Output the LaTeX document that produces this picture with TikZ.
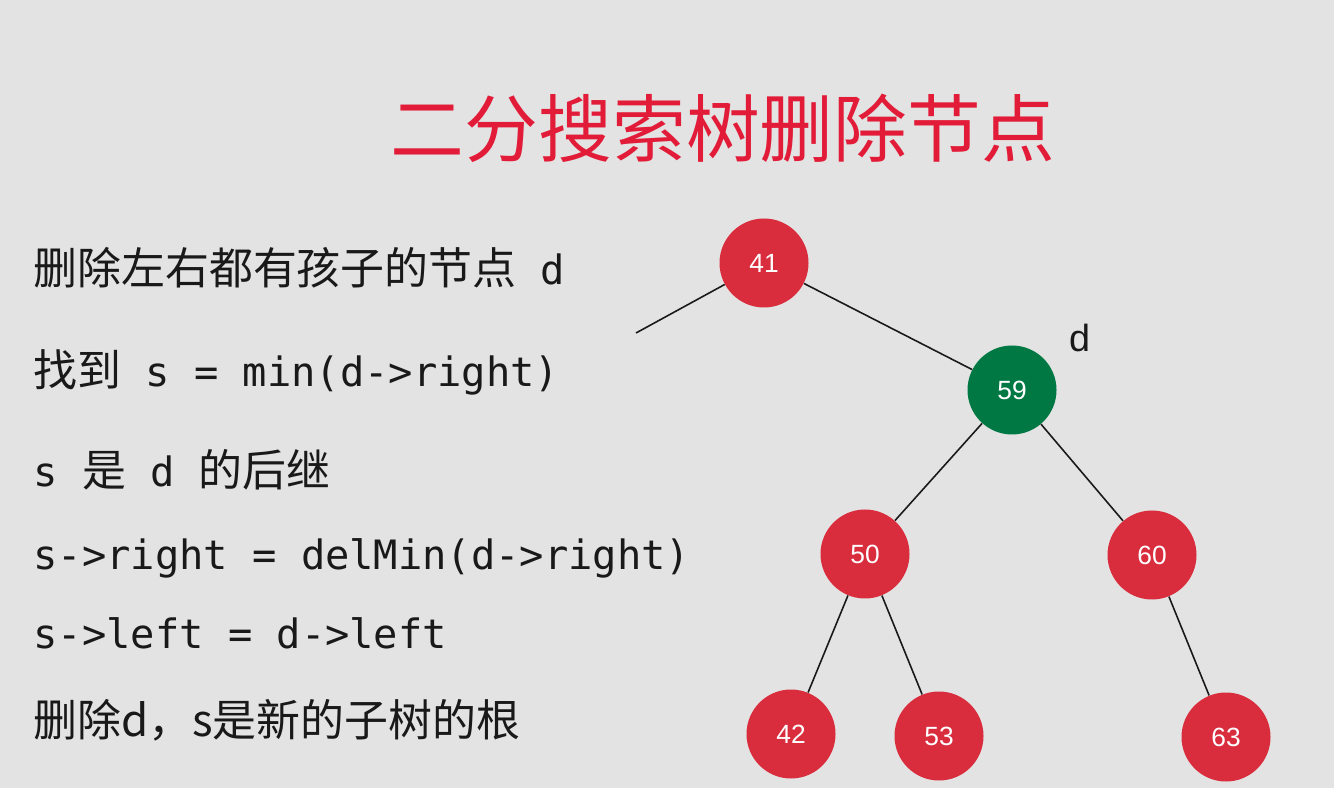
\documentclass[tikz,border=0pt]{standalone}
\usepackage{fontspec}
\setmainfont{Liberation Sans}
\setmonofont{DejaVu Sans Mono}
\newfontfamily\cjk{Noto Sans CJK SC}
\usetikzlibrary{positioning}
\definecolor{slidebg}{RGB}{227,227,227}
\definecolor{nodered}{RGB}{217,45,62}
\definecolor{nodegreen}{RGB}{0,120,68}
\definecolor{titlered}{RGB}{226,28,56}
\definecolor{ink}{RGB}{25,25,25}
\newcommand\zh[1]{{\cjk\fontsize{25}{25}\selectfont #1}}

\begin{document}
\begin{tikzpicture}[
  on grid,
  node distance=3.6cm and 1.48cm,
  tnode/.style={circle,fill=nodered,minimum size=1.78cm,inner sep=0pt,text=white,font=\fontsize{15}{15}\selectfont},
  textline/.style={ink,anchor=west,inner sep=0pt,font=\ttfamily\fontsize{23}{23}\selectfont},
  edge/.style={draw=ink,line width=0.9pt}
]
  \fill[slidebg] (0,0) rectangle (26.68,15.76);
  \node[titlered,font=\cjk\fontsize{42}{42}\selectfont] (title) at (14.46,13.2) {二分搜索树删除节点};

  \node[textline] (l1) at (0.66,10.40) {\zh{删除左右都有孩子的节点} d};
  \node[textline] (l2) at (0.66,8.32) {\zh{找到} s = min(d->right)};
  \node[textline] (l3) at (0.66,6.36) {s \zh{是} d \zh{的后继}};
  \node[textline] (l4) at (0.66,4.60) {s->right = delMin(d->right)};
  \node[textline] (l5) at (0.66,3.10) {s->left = d->left};
  \node[textline] (l6) at (0.66,1.36) {\zh{删除d，s是新的子树的根}};

  \node[tnode] (n41) at (15.28,10.50) {41};
  \node[tnode,fill=nodegreen,below right=2.54cm and 4.96cm of n41] (n59) {59};
  \node[tnode,below left=3.28cm and 2.94cm of n59] (n50) {50};
  \node[tnode,below right=3.30cm and 2.80cm of n59] (n60) {60};
  \node[tnode,below left=of n50] (n42) {42};
  \node[tnode,below right=3.64cm and 1.48cm of n50] (n53) {53};
  \node[tnode,below right=3.64cm and 1.48cm of n60] (n63) {63};
  \node[ink,font=\fontsize{21.5}{21.5}\selectfont,above right=1.04cm and 1.36cm of n59] (dlabel) {d};
  \coordinate (cut) at (12.72,9.10);

  \draw[edge] (n41) -- (cut);
  \draw[edge] (n41) -- (n59);
  \draw[edge] (n59) -- (n50);
  \draw[edge] (n59) -- (n60);
  \draw[edge] (n50) -- (n42);
  \draw[edge] (n50) -- (n53);
  \draw[edge] (n60) -- (n63);
\end{tikzpicture}
\end{document}
